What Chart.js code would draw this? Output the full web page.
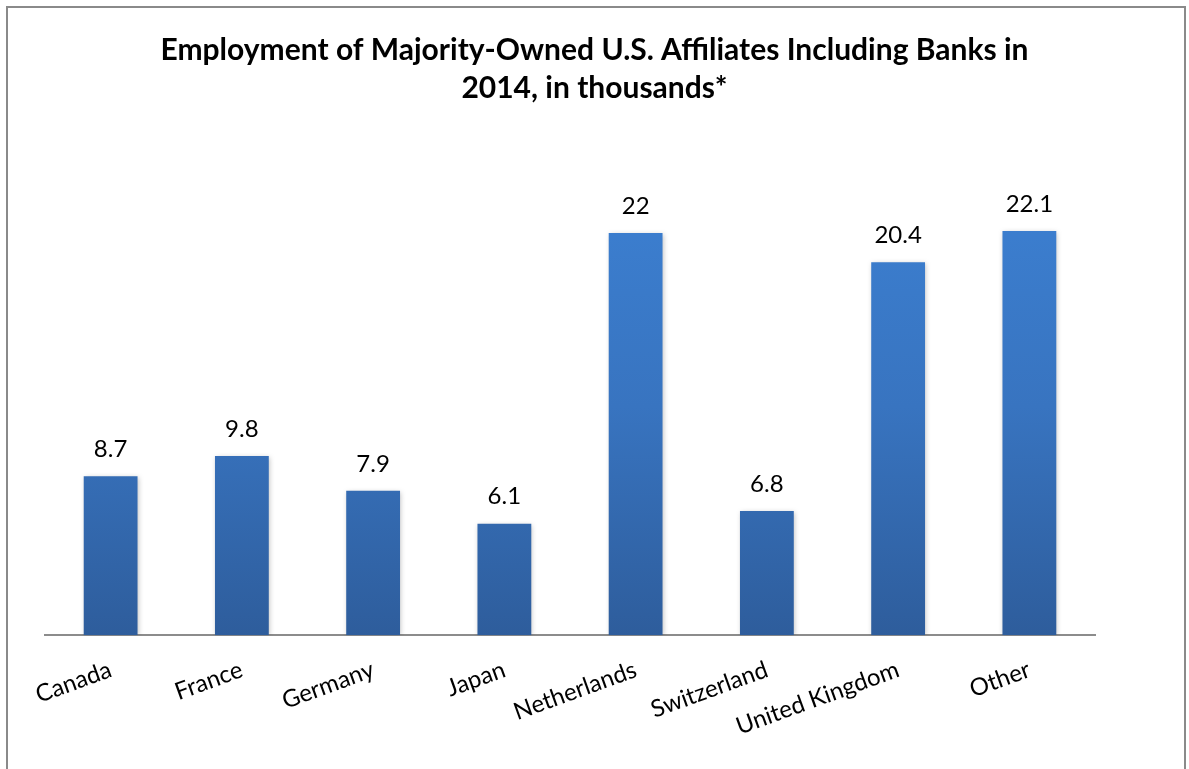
<!DOCTYPE html>
<html>
<head>
<meta charset="utf-8">
<script src="https://cdn.jsdelivr.net/npm/chart.js@4/dist/chart.umd.min.js"></script>
<style>
    html, body { margin: 0; padding: 0; background: #fff; }
    #frame {
        position: absolute; left: 6px; top: 6px; width: 1180px; height: 800px;
        border: 2px solid #8a8a8a; box-sizing: border-box;
    }
    #wrap { position: absolute; left: 0; top: 0; width: 1189px; height: 769px; }
</style>
</head>
<body>
<div id="frame"></div>
<div id="wrap"><canvas id="chart"></canvas></div>
<script>
const countries = ['Canada', 'France', 'Germany', 'Japan', 'Netherlands', 'Switzerland', 'United Kingdom', 'Other'];
const employment = [8.7, 9.8, 7.9, 6.1, 22, 6.8, 20.4, 22.1];
const titleLines = ['Employment of Majority-Owned U.S. Affiliates Including Banks in', '2014, in thousands*'];

const FONT = "Lato, 'Open Sans', sans-serif";

// title centred on the whole canvas, not on the padded box
const pageTitle = {
    id: 'pageTitle',
    afterDraw(chart) {
        const { ctx } = chart;
        ctx.save();
        ctx.font = 'bold 30px ' + FONT;
        ctx.fillStyle = '#000';
        ctx.textAlign = 'center';
        ctx.textBaseline = 'middle';
        titleLines.forEach((line, i) => {
            ctx.fillText(line, chart.width / 2, 50 + i * 38);
        });
        ctx.restore();
    },
};

// numbers above each bar
const valueLabels = {
    id: 'valueLabels',
    afterDatasetsDraw(chart) {
        const { ctx } = chart;
        const meta = chart.getDatasetMeta(0);
        ctx.save();
        ctx.font = '24px ' + FONT;
        ctx.fillStyle = '#000';
        ctx.textAlign = 'center';
        ctx.textBaseline = 'middle';
        meta.data.forEach((bar, i) => {
            ctx.fillText(String(employment[i]), bar.x, bar.y - 27);
        });
        ctx.restore();
    },
};

// soft shadow behind bars
const barShadow = {
    id: 'barShadow',
    beforeDatasetsDraw(chart) {
        const { ctx } = chart;
        ctx.save();
        ctx.shadowColor = 'rgba(0,0,0,0.25)';
        ctx.shadowBlur = 5;
        ctx.shadowOffsetX = 1;
        ctx.shadowOffsetY = 1;
    },
    afterDatasetsDraw(chart) {
        chart.ctx.restore();
    },
};

function barGradient(context) {
    const { chart } = context;
    const { ctx, chartArea } = chart;
    if (!chartArea) return '#3a7bc8';
    const y0 = chart.scales.y.getPixelForValue(0);
    const g = ctx.createLinearGradient(0, chartArea.top, 0, y0);
    g.addColorStop(0, '#3c80d2');
    g.addColorStop(0.5, '#3874c0');
    g.addColorStop(1, '#2e5d9c');
    return g;
}

new Chart(document.getElementById('chart'), {
    type: 'bar',
    data: {
        labels: countries,
        datasets: [{
            data: employment,
            backgroundColor: barGradient,
            borderWidth: 0,
            categoryPercentage: 1,
            barPercentage: 0.41,
        }],
    },
    options: {
        responsive: true,
        maintainAspectRatio: false,
        animation: false,
        layout: { padding: { left: 45, right: 94, top: 178, bottom: 16 } },
        plugins: {
            legend: { display: false },
            tooltip: { enabled: false },
            title: { display: false },
        },
        scales: {
            x: {
                grid: { display: false },
                border: { display: true, color: '#8c8c8c', width: 2 },
                ticks: {
                    color: '#000',
                    font: { family: FONT, size: 24 },
                    minRotation: 20,
                    maxRotation: 20,
                    padding: 12,
                    autoSkip: false,
                },
            },
            y: {
                display: false,
                min: 0,
                max: 25,
            },
        },
    },
    plugins: [barShadow, valueLabels, pageTitle],
});
</script>
</body>
</html>
